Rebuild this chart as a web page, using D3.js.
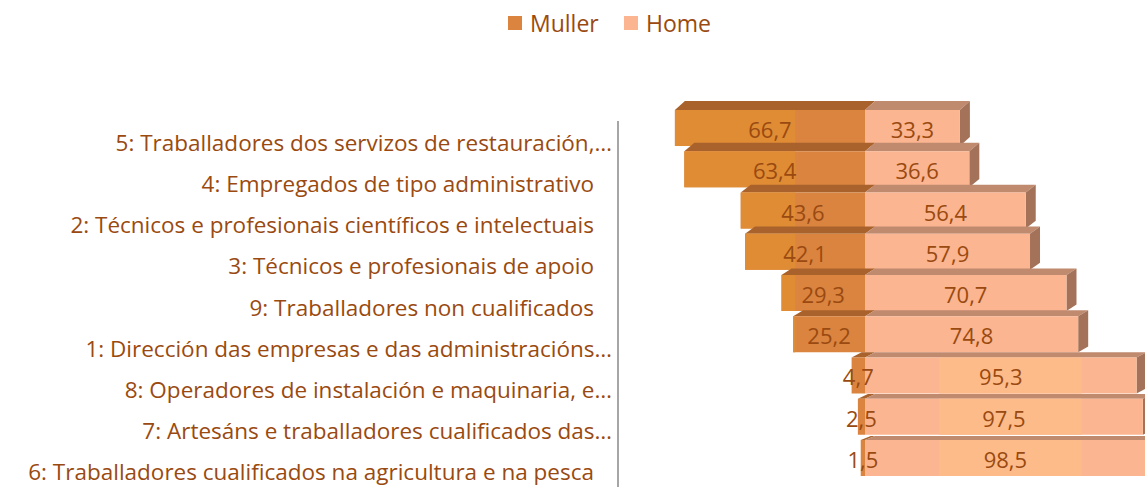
<!DOCTYPE html>
<html lang="gl">
  <head>
    <meta charset="utf-8">
    <title>Muller / Home por ocupación</title>
    <style>
      html, body { margin: 0; padding: 0; background: #fff; }
      svg { display: block; font-family: "Open Sans", sans-serif; }
      .cat-label, .val-label, .legend text { fill: #9a4a10; }
    </style>
  </head>
  <body>
    <svg id="chart" width="1145" height="487"></svg>

    <script src="https://cdnjs.cloudflare.com/ajax/libs/d3/7.8.5/d3.min.js"></script>
    <script>
    // data (top row first)
    const categories = [
      '5: Traballadores dos servizos de restauración,…',
      '4: Empregados de tipo administrativo',
      '2: Técnicos e profesionais científicos e intelectuais',
      '3: Técnicos e profesionais de apoio',
      '9: Traballadores non cualificados',
      '1: Dirección das empresas e das administracións…',
      '8: Operadores de instalación e maquinaria, e…',
      '7: Artesáns e traballadores cualificados das…',
      '6: Traballadores cualificados na agricultura e na pesca'
    ];
    const muller = [66.7, 63.4, 43.6, 42.1, 29.3, 25.2, 4.7, 2.5, 1.5];
    const home = [33.3, 36.6, 56.4, 57.9, 70.7, 74.8, 95.3, 97.5, 98.5];
    const seriesNames = ['Muller', 'Home'];

    const colors = {
      muller: '#da8440', mullerLight: '#df8c35', mullerTop: '#a9622b',
      home: '#fbb590', homeLight: '#fdbb8a', homeTop: '#c08a6f', homeSide: '#a37259'
    };

    const svg = d3.select('#chart');
    const axisX = 618;

    // scales
    const x = d3.scaleLinear().domain([-100, 100]).range([580, 1150]);
    const y = d3.scaleBand()
      .domain(categories)
      .range([110, 476])
      .paddingInner(0.127)
      .paddingOuter(0);
    // depth of the 3d top face shrinks towards the bottom rows
    const depthY = d3.scaleLinear().domain([0, categories.length - 1]).range([9, 4]);
    const depthX = 10;

    const fmt = d3.formatLocale({decimal: ',', thousands: '.', grouping: [3], currency: ['', '€']}).format('.1f');

    // lighter vertical bands seen on the bar fronts: value range and first/last row
    const lightBands = [
      {from: -100, to: -24.5, rows: [0, 8]},
      {from: 26, to: 76, rows: [6, 8]}
    ];

    const poly = pts => 'M' + pts.map(p => p.join(',')).join('L') + 'Z';

    const g = svg.append('g');

    categories.forEach(function(cat, i) {
      const top = y(cat);
      const bot = top + y.bandwidth();
      const dy = depthY(i);
      const x0 = x(0);
      const xl = x(-muller[i]);
      const xr = x(home[i]);

      // top faces
      g.append('path')
        .attr('d', poly([[xl, top], [xl + depthX, top - dy], [x0 + depthX, top - dy], [x0, top]]))
        .attr('fill', colors.mullerTop);
      g.append('path')
        .attr('d', poly([[x0, top], [x0 + depthX, top - dy], [xr + depthX, top - dy], [xr, top]]))
        .attr('fill', colors.homeTop);
      // right side face
      g.append('path')
        .attr('d', poly([[xr, top], [xr + depthX, top - dy], [xr + depthX, bot - dy], [xr, bot]]))
        .attr('fill', colors.homeSide);

      // front faces
      g.append('rect')
        .attr('x', xl).attr('y', top)
        .attr('width', x0 - xl).attr('height', y.bandwidth())
        .attr('fill', colors.muller);
      g.append('rect')
        .attr('x', x0).attr('y', top)
        .attr('width', xr - x0).attr('height', y.bandwidth())
        .attr('fill', colors.home);

      // lighter bands clipped to the bar fronts
      lightBands.forEach(function(b) {
        if (i < b.rows[0] || i > b.rows[1]) return;
        const a = Math.max(x(b.from), xl);
        const c = Math.min(x(b.to), xr);
        if (c <= a) return;
        const m = Math.min(c, x0);
        if (m > a) {
          g.append('rect').attr('x', a).attr('y', top)
            .attr('width', m - a).attr('height', y.bandwidth())
            .attr('fill', colors.mullerLight);
        }
        const h0 = Math.max(a, x0);
        if (c > h0) {
          g.append('rect').attr('x', h0).attr('y', top)
            .attr('width', c - h0).attr('height', y.bandwidth())
            .attr('fill', colors.homeLight);
        }
      });

      // value labels
      const cy = top + y.bandwidth() / 2 + 1;
      g.append('text')
        .attr('class', 'val-label')
        .attr('x', (xl + x0) / 2).attr('y', cy)
        .attr('text-anchor', 'middle').attr('dominant-baseline', 'central')
        .attr('font-size', 22)
        .text(fmt(muller[i]));
      g.append('text')
        .attr('class', 'val-label')
        .attr('x', (x0 + xr) / 2).attr('y', cy)
        .attr('text-anchor', 'middle').attr('dominant-baseline', 'central')
        .attr('font-size', 22)
        .text(fmt(home[i]));
    });

    // category axis
    svg.append('line')
      .attr('x1', axisX).attr('x2', axisX)
      .attr('y1', 121).attr('y2', 487)
      .attr('stroke', '#a6a6a6').attr('stroke-width', 2);

    svg.append('g')
      .selectAll('text')
      .data(categories)
      .join('text')
      .attr('class', 'cat-label')
      .attr('x', d => d.endsWith('…') ? axisX - 6 : axisX - 24)
      .attr('y', d => y(d) + y.bandwidth() / 2 + 14)
      .attr('text-anchor', 'end')
      .attr('dominant-baseline', 'central')
      .attr('font-size', 22.5)
      .text(d => d);

    // legend
    const legend = svg.append('g').attr('class', 'legend');
    const legendX = [508, 624];
    const legendColors = [colors.muller, colors.home];
    seriesNames.forEach(function(name, i) {
      legend.append('rect')
        .attr('x', legendX[i]).attr('y', 16)
        .attr('width', 14).attr('height', 14)
        .attr('fill', legendColors[i]);
      legend.append('text')
        .attr('x', legendX[i] + 22).attr('y', 23)
        .attr('dominant-baseline', 'central')
        .attr('font-size', 23)
        .text(name);
    });
    </script>
  </body>
</html>
